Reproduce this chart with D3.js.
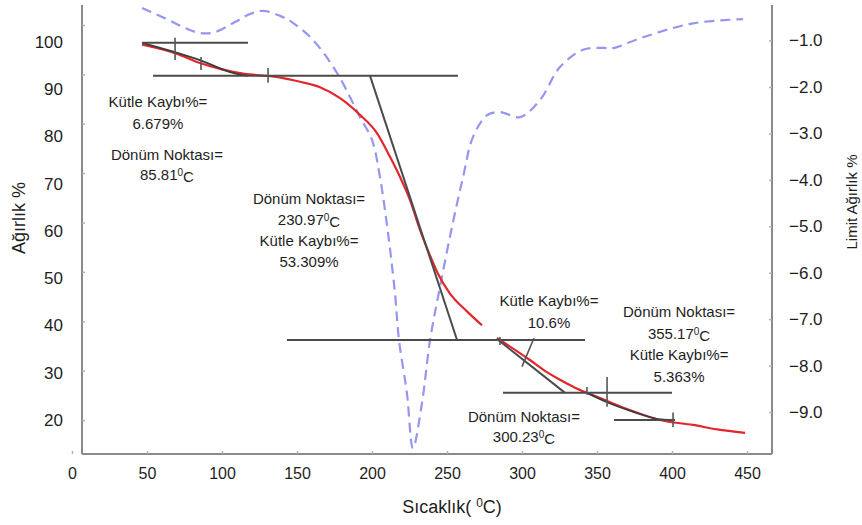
<!DOCTYPE html>
<html>
<head>
<meta charset="utf-8">
<script src="https://cdn.jsdelivr.net/npm/d3@7"></script>
<style>
  html, body { margin: 0; padding: 0; background: #fff; }
  svg { display: block; font-family: "Liberation Sans", Arial, Helvetica, sans-serif; }
</style>
</head>
<body>
<svg id="chart" width="862" height="525"></svg>
<script>
// ---- TGA mass curve (Ağırlık %), first stage ----
const tgaTemp1 = [46.7, 57, 68.7, 85.3, 100, 115, 130, 140, 152, 165.3, 178.7, 192, 203.3, 212, 218.7, 225.3, 232, 238.7, 244, 252, 263.3, 273.3];
const tgaMass1 = [96.0, 95.3, 94.3, 92.3, 91.0, 90.1, 89.7, 89.3, 88.5, 87.4, 85.2, 81.8, 78.1, 73.3, 69.2, 64.6, 58.5, 53.3, 49.6, 45.6, 42.0, 39.2];

// ---- TGA mass curve, second stage ----
const tgaTemp2 = [283.3, 305, 315, 325, 335, 345, 358, 370, 383, 392, 414, 430, 448.7];
const tgaMass2 = [36.6, 32.2, 30.0, 28.2, 26.6, 25.3, 23.7, 22.2, 20.8, 20.0, 19.0, 18.1, 17.4];

// ---- DTG curve (Limit Ağırlık %) ----
const dtgTemp = [46.7, 62, 75.3, 85.3, 95.3, 108.7, 118.7, 127.3, 138.7, 147.3, 160.7, 176.7, 192, 200, 205.3, 210.7, 215.3, 218, 223.3, 227.3,
                 233.3, 238.7, 245.3, 253.3, 260.7, 267.3, 276.7, 285.3, 298.7, 312, 325.3, 340.7, 354, 360, 380.7, 414, 447.3];
const dtgValue = [-0.30, -0.52, -0.73, -0.84, -0.82, -0.60, -0.43, -0.36, -0.47, -0.62, -0.99, -1.70, -2.65, -3.14, -3.94, -5.15, -6.44, -7.45, -8.60, -9.78,
                  -8.81, -7.45, -6.31, -5.02, -3.94, -3.08, -2.61, -2.54, -2.65, -2.28, -1.57, -1.20, -1.16, -1.17, -0.93, -0.63, -0.54];

// ---- fitted curve segments drawn over the mass curve ----
const fitTemp1 = [46.7, 68.7, 85.3, 107.3, 117.3];
const fitMass1 = [96.4, 94.5, 92.9, 90.3, 89.7];
const fitTemp4 = [343.3, 356.7, 375, 393, 400.7];
const fitMass4 = [25.5, 23.6, 21.6, 20.1, 20.0];

// ---- baselines and tangents: [T1, W1, T2, W2] ----
const tangentLines = [
  [46.7, 96.4, 117.3, 96.4],
  [54, 89.7, 257.3, 89.7],
  [198.7, 89.7, 256.7, 36.2],
  [143.3, 36.2, 342, 36.2],
  [283.3, 36.4, 328.7, 25.5],
  [287.3, 25.5, 400, 25.5],
  [361.3, 20.0, 402, 20.0]
];

// ---- short cursor marks: [T1, W1, T2, W2] ----
const cursorMarks = [
  [68.7, 97.4, 68.7, 92.9],
  [86, 93.5, 86, 90.9],
  [130.7, 91.3, 130.7, 88.3],
  [285.3, 36.8, 285.3, 35.2],
  [300, 30.8, 308, 36.6],
  [343.3, 26.7, 343.3, 25.1],
  [356.7, 28.7, 356.7, 22.7],
  [400.7, 21.5, 400.7, 18.6]
];

// ---- axis ticks ----
const xTicks = [0, 50, 100, 150, 200, 250, 300, 350, 400, 450];
const yLeftTicks = [20, 30, 40, 50, 60, 70, 80, 90, 100];
const yRightTicks = [-9, -8, -7, -6, -5, -4, -3, -2, -1];

// ---- annotations: anchor (T, W) and text lines; "^" marks a superscript ----
const noteTemp = [57.3, 63.3, 158, 318, 404.7, 301.3];
const noteMass = [84.4, 73.7, 64.8, 44.1, 41.9, 20.6];
const noteLines = [
  ["Kütle Kaybı%=", "6.679%"],
  ["Dönüm Noktası=", "85.81^0C"],
  ["Dönüm Noktası=", "230.97^0C", "Kütle Kaybı%=", "53.309%"],
  ["Kütle Kaybı%=", "10.6%"],
  ["Dönüm Noktası=", "355.17^0C", "Kütle Kaybı%=", "5.363%"],
  ["Dönüm Noktası=", "300.23^0C"]
];
const noteSpacing = [22, 20, 21, 22, 21.5, 20];

const svg = d3.select("#chart");

// scales
const x = d3.scaleLinear().domain([0, 450]).range([72, 747]);
const yL = d3.scaleLinear().domain([20, 100]).range([420, 25]);
const yLText = d3.scaleLinear().domain([20, 100]).range([420, 42]);
const yR = d3.scaleLinear().domain([-9, -1]).range([412, 40.5]);

const axisColor = "#8a8a8a";
const textColor = "#1e1e1e";
const plotLeft = 82, plotRight = 772, plotTop = 5, plotBottom = 454;

// frame lines
svg.append("line").attr("x1", plotLeft).attr("x2", plotLeft).attr("y1", plotTop).attr("y2", plotBottom)
  .attr("stroke", axisColor).attr("stroke-width", 2);
svg.append("line").attr("x1", plotRight).attr("x2", plotRight).attr("y1", plotTop).attr("y2", plotBottom)
  .attr("stroke", axisColor).attr("stroke-width", 2);
svg.append("line").attr("x1", plotLeft).attr("x2", plotRight).attr("y1", plotBottom).attr("y2", plotBottom)
  .attr("stroke", axisColor).attr("stroke-width", 2);

// bottom axis
const gx = svg.append("g").attr("transform", `translate(0,${plotBottom})`)
  .call(d3.axisBottom(x).tickValues(xTicks).tickSize(-3).tickSizeOuter(0).tickPadding(14).tickFormat(d3.format("d")));
gx.select(".domain").remove();
gx.selectAll(".tick line").attr("stroke", "#b0b0b0").attr("stroke-width", 1.5);
gx.selectAll(".tick text").attr("fill", textColor).style("font-size", "16px");

// left axis: tick marks on the data scale
const gyMarks = svg.append("g").attr("transform", `translate(${plotLeft},0)`)
  .call(d3.axisLeft(yL).tickValues(yLeftTicks).tickSize(-3).tickFormat(""));
gyMarks.select(".domain").remove();
gyMarks.selectAll(".tick line").attr("stroke", "#b0b0b0").attr("stroke-width", 1.5);

// left axis labels
const gyText = svg.append("g").attr("transform", `translate(${plotLeft},0)`)
  .call(d3.axisLeft(yLText).tickValues(yLeftTicks).tickSize(0).tickPadding(19).tickFormat(d3.format("d")));
gyText.select(".domain").remove();
gyText.selectAll(".tick text").attr("fill", textColor).style("font-size", "17px");

// right axis
const gr = svg.append("g").attr("transform", `translate(${plotRight},0)`)
  .call(d3.axisRight(yR).tickValues(yRightTicks).tickSize(-3).tickPadding(17).tickFormat(d3.format(".1f")));
gr.select(".domain").remove();
gr.selectAll(".tick line").attr("stroke", "#b0b0b0").attr("stroke-width", 1.5);
gr.selectAll(".tick text").attr("fill", textColor).style("font-size", "17px");

// axis titles
svg.append("text")
  .attr("transform", "translate(25,218) rotate(-90)")
  .attr("text-anchor", "middle")
  .attr("fill", textColor).style("font-size", "18px")
  .text("Ağırlık %");
svg.append("text")
  .attr("transform", "translate(857,202) rotate(-90)")
  .attr("text-anchor", "middle")
  .attr("fill", textColor).style("font-size", "15px")
  .text("Limit Ağırlık %");
const xt = svg.append("text")
  .attr("x", 452).attr("y", 513)
  .attr("text-anchor", "middle")
  .attr("fill", textColor).style("font-size", "18px");
xt.append("tspan").text("Sıcaklık( ");
xt.append("tspan").attr("dy", -6).style("font-size", "12px").text("0");
xt.append("tspan").attr("dy", 6).text("C)");

// DTG dashed curve
const dtgLine = d3.line().x(d => x(d[0])).y(d => yR(d[1])).curve(d3.curveCatmullRom.alpha(0.5));
svg.append("path")
  .datum(d3.zip(dtgTemp, dtgValue))
  .attr("d", dtgLine)
  .attr("fill", "none")
  .attr("stroke", "#9595f2")
  .attr("stroke-width", 2.2)
  .attr("stroke-dasharray", "10,6");

// TGA curves
const massLine = d3.line().x(d => x(d[0])).y(d => yL(d[1])).curve(d3.curveMonotoneX);
[[tgaTemp1, tgaMass1], [tgaTemp2, tgaMass2]].forEach(([t, m]) => {
  svg.append("path")
    .datum(d3.zip(t, m))
    .attr("d", massLine)
    .attr("fill", "none")
    .attr("stroke", "#e3262b")
    .attr("stroke-width", 2.2);
});

// fitted segments
[[fitTemp1, fitMass1], [fitTemp4, fitMass4]].forEach(([t, m]) => {
  svg.append("path")
    .datum(d3.zip(t, m))
    .attr("d", massLine)
    .attr("fill", "none")
    .attr("stroke", "#3c3c3c")
    .attr("stroke-width", 1.8);
});

// tangents and baselines
svg.selectAll("line.tangent").data(tangentLines).enter().append("line")
  .attr("class", "tangent")
  .attr("x1", d => x(d[0])).attr("y1", d => yL(d[1]))
  .attr("x2", d => x(d[2])).attr("y2", d => yL(d[3]))
  .attr("stroke", "#4b4b4b").attr("stroke-width", 2);

// cursor marks
svg.selectAll("line.mark").data(cursorMarks).enter().append("line")
  .attr("class", "mark")
  .attr("x1", d => x(d[0])).attr("y1", d => yL(d[1]))
  .attr("x2", d => x(d[2])).attr("y2", d => yL(d[3]))
  .attr("stroke", "#555").attr("stroke-width", 1.6);

// annotations
noteLines.forEach((lines, i) => {
  const cx = x(noteTemp[i]);
  const cy = yL(noteMass[i]);
  lines.forEach((line, j) => {
    const t = svg.append("text")
      .attr("x", cx).attr("y", cy + j * noteSpacing[i])
      .attr("dy", "0.35em")
      .attr("text-anchor", "middle")
      .attr("fill", textColor)
      .style("font-size", "15px");
    const parts = line.split("^");
    t.append("tspan").text(parts[0]);
    if (parts.length > 1) {
      t.append("tspan").attr("dy", "-0.4em").style("font-size", "10px").text(parts[1][0]);
      t.append("tspan").attr("dy", "0.4em").text(parts[1].slice(1));
    }
  });
});
</script>
</body>
</html>
